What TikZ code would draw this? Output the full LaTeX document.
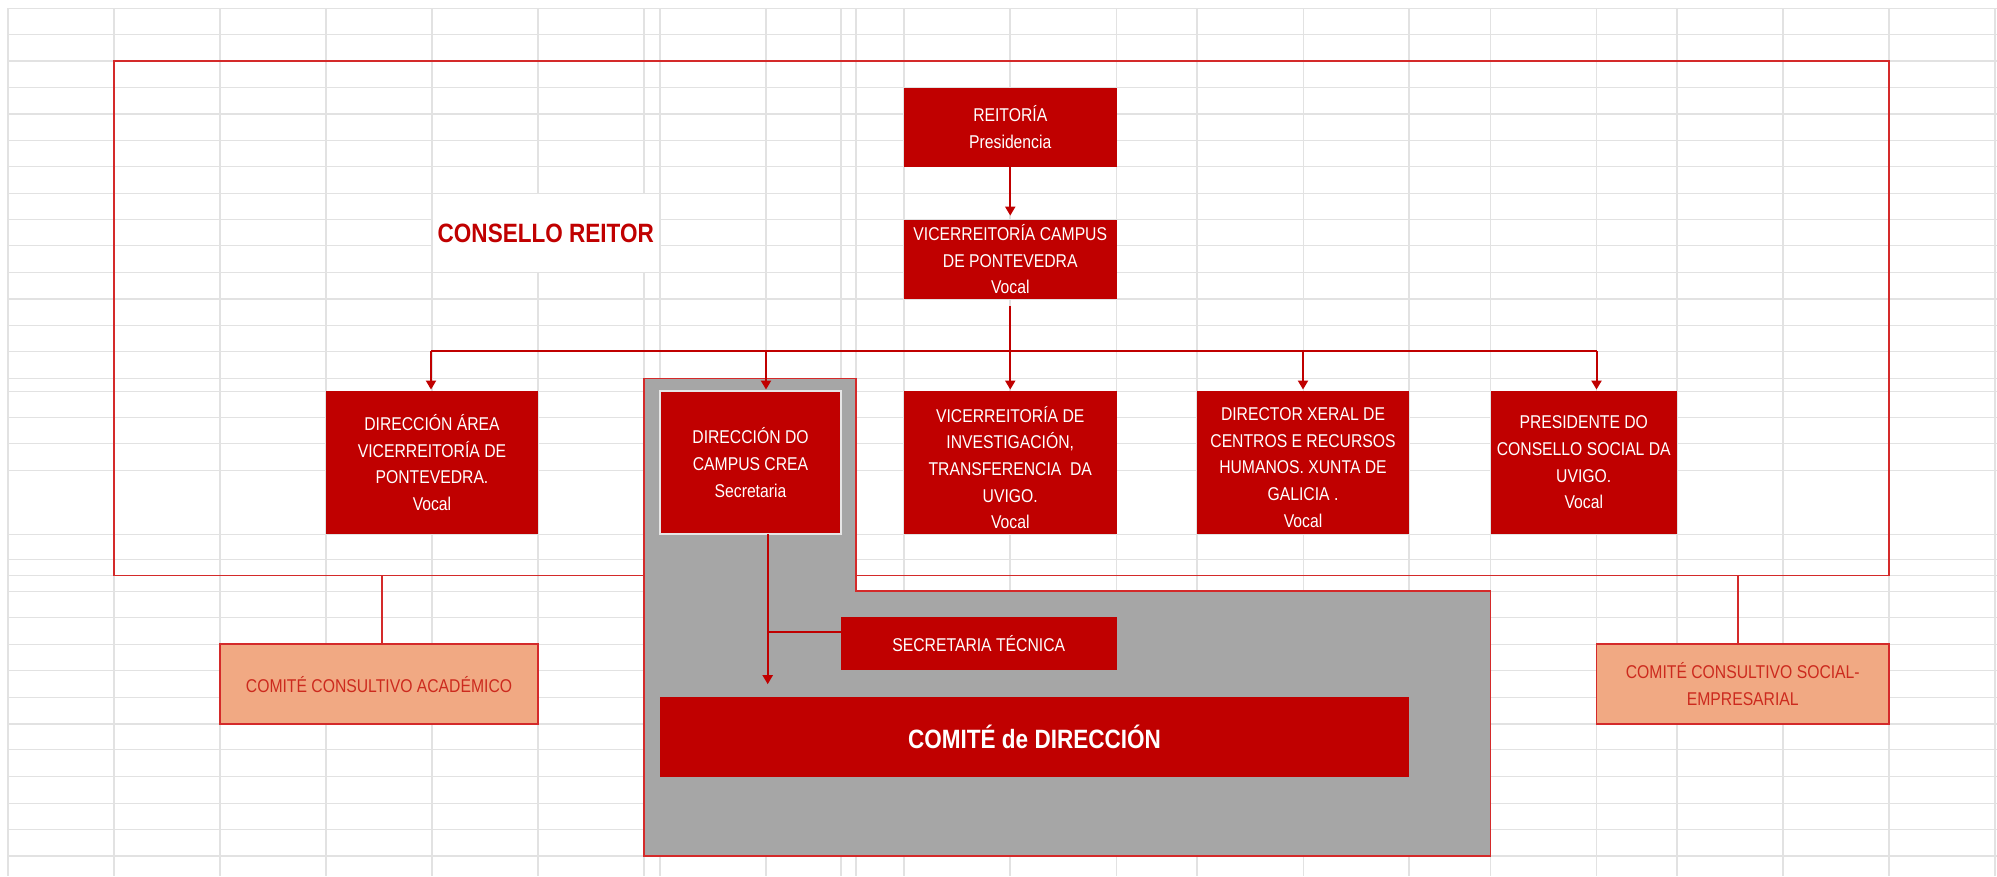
\documentclass[tikz,border=0pt]{standalone}
\usepackage{fontspec}
\setmainfont{Liberation Sans}[FakeStretch=0.85]
\usetikzlibrary{arrows.meta}
\definecolor{cred}{HTML}{C00000}
\definecolor{cline}{HTML}{D42A2A}
\definecolor{cgray}{HTML}{A6A6A6}
\definecolor{csalmon}{HTML}{F1A983}
\definecolor{csaltext}{HTML}{CC2A1E}
\definecolor{cgrid}{HTML}{E2E2E2}
\definecolor{cborder}{HTML}{E6E6E6}
\newcommand\fsn{\fontsize{18.5}{26.7}\selectfont}
\newcommand\fsb{\fontsize{26.5}{30}\selectfont\bfseries}
\begin{document}
\begin{tikzpicture}[x=1pt,y=-1pt,
  redbox/.style={fill=cred, draw=none, text=white, align=center, font=\fsn, inner sep=0pt, outer sep=0pt},
  boxtext/.style={text=white, align=center, font=\fsn, inner sep=0pt},
  salbox/.style={fill=csalmon, draw=cline, line width=1.8pt, text=csaltext, align=center, font=\fsn, inner sep=0pt, outer sep=0pt},
  outerbox/.style={draw=cline, line width=1.6pt, fill=none, inner sep=0pt, outer sep=0pt},
  arr/.style={draw=cred, line width=2pt, -{Triangle[width=10pt,length=9pt]}},
  conn/.style={draw=cred, line width=2pt},
  thin/.style={draw=cline, line width=1.6pt}]
\useasboundingbox (0,0) rectangle (1997,876);
\fill[white] (0,0) rectangle (1997,876);
% spreadsheet grid
\foreach \gx in {8,114,220,326,432,538,644,660,766,841,856,904,1010,1116.5,1197,1303.5,1409,1490.5,1596.5,1677,1783,1889,1995}
  \draw[cgrid, line width=1.2pt] (\gx,8.4) -- (\gx,876);
\foreach \gy in {8.4,34.6,60.9,87.7,114,140.2,166.5,193.3,219.6,245.8,272.6,298.9,325.1,351.4,378.2,391.1,417.3,443.6,470.4,534.1,559.8,575.4,591.1,617.3,644.2,670.4,697.2,724,749.7,776.6,803.4,829.6,855.9}
  \draw[cgrid, line width=1.2pt] (8,\gy) -- (1997,\gy);
% merged cell of the title
\fill[white] (432.7,194) rectangle (659.3,271.9);

% outer frame (Consello Reitor)
\node[outerbox, minimum width=1775pt, minimum height=514.5pt] (consello) at (1001.5,318.15) {};
\node[anchor=west, inner sep=0pt, text=cred, font=\fsb] (ctitle) at (437.5,232.9) {CONSELLO REITOR};

% grey area
\filldraw[fill=cgray, draw=cline, line width=1.4pt] (644,378.2) -- (856,378.2) -- (856,591.1) -- (1490.5,591.1) -- (1490.5,855.9) -- (644,855.9) -- cycle;

% top boxes
\node[redbox, minimum width=212.5pt, minimum height=78.8pt] (reit) at (1010.25,127.1) {REITORÍA\\Presidencia};
\node[redbox, minimum width=212.5pt, minimum height=79.3pt] (vcamp) at (1010.25,259.25) {VICERREITORÍA CAMPUS\\DE PONTEVEDRA\\Vocal};

% second row
\node[redbox, minimum width=212pt, minimum height=143pt] (dirarea) at (432,462.55) {DIRECCIÓN ÁREA\\VICERREITORÍA DE\\PONTEVEDRA.\\Vocal};
\node[redbox, draw=cborder, line width=1.6pt, minimum width=181pt, minimum height=143pt] (campus) at (750.5,462.55) {DIRECCIÓN DO\\CAMPUS CREA\\Secretaria};
\node[redbox, minimum width=212.5pt, minimum height=143pt] (vinv) at (1010.25,462.55) {};
\node[boxtext] (vinvt) at ([yshift=-5pt]vinv.center) {VICERREITORÍA DE\\INVESTIGACIÓN,\\TRANSFERENCIA~~DA\\UVIGO.\\Vocal};
\node[redbox, minimum width=212pt, minimum height=143pt] (dxeral) at (1303,462.55) {};
\node[boxtext] (dxeralt) at ([yshift=-5pt]dxeral.center) {DIRECTOR XERAL DE\\CENTROS E RECURSOS\\HUMANOS. XUNTA DE\\GALICIA .\\Vocal};
\node[redbox, minimum width=186.5pt, minimum height=143pt] (pres) at (1583.75,462.55) {PRESIDENTE DO\\CONSELLO SOCIAL DA\\UVIGO.\\Vocal};

% lower boxes
\node[redbox, minimum width=275.5pt, minimum height=53.1pt] (secre) at (978.75,643.85) {SECRETARIA TÉCNICA};
\node[redbox, font=\fsb, minimum width=749pt, minimum height=79.4pt] (comite) at (1034.5,736.9) {COMITÉ de DIRECCIÓN};
\node[salbox, minimum width=318pt, minimum height=79.8pt] (acad) at (379,684.1) {COMITÉ CONSULTIVO ACADÉMICO};
\node[salbox, minimum width=292.5pt, minimum height=79.8pt] (social) at (1742.75,684.1) {COMITÉ CONSULTIVO SOCIAL-\\EMPRESARIAL};

% connectors
\draw[arr, shorten >=4pt] (reit.south) -- (vcamp.north);
\coordinate (bus) at (1010.25,351.4);
\coordinate (busL) at (431,351.4);
\coordinate (busR) at (1596.5,351.4);
\coordinate (campx) at (766,351.4);
\coordinate (presx) at (1596.5,351.4);
\draw[conn, shorten <=7pt] (vcamp.south) -- (bus);
\draw[conn] (busL) -- (busR);
\draw[arr, shorten >=1.5pt] (busL) -- (busL |- dirarea.north);
\draw[arr, shorten >=1.5pt] (campx) -- (campx |- campus.north);
\draw[arr, shorten >=1.5pt] (bus) -- (vinv.north);
\draw[arr, shorten >=1.5pt] (bus -| dxeral.north) -- (dxeral.north);
\draw[arr, shorten >=1.5pt] (presx) -- (presx |- pres.north);

\coordinate (cdown) at (767.7,534);
\draw[arr, shorten >=13pt] (cdown) -- (cdown |- comite.north);
\draw[conn] (cdown |- 0,632) -- (secre.west |- 0,632);

\draw[thin] ([xshift=3pt]acad.north) -- ([xshift=3pt]acad.north |- consello.south);
\draw[thin] ([xshift=-5pt]social.north) -- ([xshift=-5pt]social.north |- consello.south);
\end{tikzpicture}
\end{document}
